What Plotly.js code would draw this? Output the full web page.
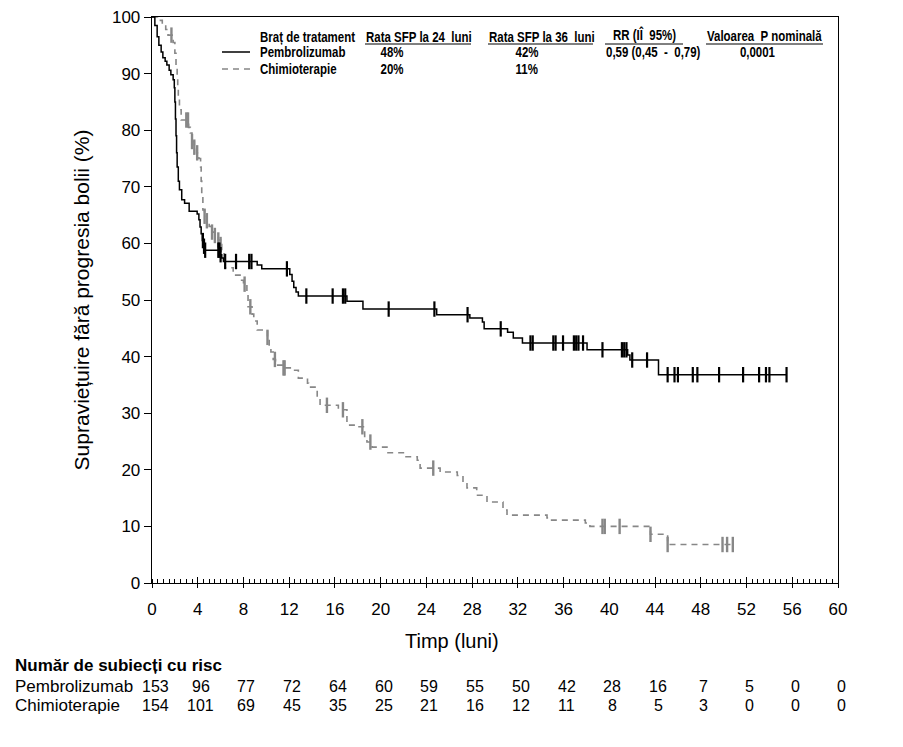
<!DOCTYPE html>
<html>
<head>
<meta charset="utf-8">
<script src="https://cdn.plot.ly/plotly-3.0.1.min.js"></script>
<style>
  html, body { margin: 0; padding: 0; background: #fff; }
  #chart { width: 903px; height: 747px; }
</style>
</head>
<body>
<div id="chart"></div>
<script>
// Kaplan-Meier progression-free survival, two treatment arms

// Pembrolizumab: step times (months) and survival (%) after each step
const pembroTime = [0, 0.25, 0.45, 0.6, 0.8, 0.95, 1.15, 1.3, 1.5, 1.65, 1.85, 1.95, 2.0, 2.05, 2.1, 2.15, 2.2, 2.3, 2.4, 2.6, 2.85, 3.25, 3.95, 4.1, 4.2, 4.3, 4.4, 4.5, 4.6, 5.95, 6.1, 6.25, 9.2, 9.6, 12.05, 12.25, 12.4, 12.6, 12.8, 17.05, 18.45, 24.9, 27.8, 28.9, 29.05, 31.1, 31.6, 32.4, 38.05, 41.6, 41.8, 44.3, 55.5];
const pembroSurv = [100, 98.5, 96.5, 95, 93.8, 92.8, 92.2, 91.5, 90.6, 89.8, 88.9, 87.5, 85, 82, 79, 76, 73.5, 71, 69.5, 67.7, 67.1, 65.7, 65.2, 64.2, 62.9, 61.7, 60.5, 59.5, 58.8, 58.0, 57.4, 56.8, 56.2, 55.5, 54.5, 53.3, 52.2, 51.4, 50.7, 49.8, 48.4, 47.4, 46.8, 46.1, 44.9, 44.3, 43.3, 42.4, 41.2, 40.3, 39.4, 36.8, 36.8];
// Pembrolizumab: censoring times (months)
const pembroCensor = [4.45, 4.55, 4.65, 5.8, 5.9, 6.0, 6.4, 7.35, 8.5, 8.7, 11.8, 13.5, 15.8, 16.7, 16.9, 20.7, 24.7, 27.6, 30.5, 33.1, 33.3, 35.1, 35.3, 35.95, 36.9, 37.1, 37.3, 37.7, 39.4, 41.1, 41.3, 41.5, 42.0, 43.3, 45.1, 45.7, 46.0, 47.3, 47.7, 49.6, 51.7, 53.1, 53.7, 54.0, 55.5];

// Chemotherapy: step times (months) and survival (%)
const chemoTime = [0, 0.5, 0.9, 1.2, 1.4, 1.85, 2.0, 2.1, 2.2, 2.25, 2.3, 2.4, 2.55, 3.2, 3.35, 3.5, 3.7, 3.9, 4.1, 4.25, 4.3, 4.35, 4.45, 4.6, 4.8, 5.0, 5.2, 5.5, 5.8, 6.0, 6.1, 6.3, 6.4, 7.1, 7.7, 8.0, 8.3, 8.4, 8.75, 8.9, 9.2, 10.1, 10.25, 10.4, 10.6, 10.8, 11.5, 12.2, 12.8, 13.6, 13.7, 14.45, 14.7, 16.3, 17.05, 18.0, 18.6, 18.8, 19.25, 20.55, 22.1, 23.2, 23.45, 25.2, 26.7, 27.2, 27.55, 28.4, 29.3, 30.7, 31.05, 34.55, 34.8, 37.9, 38.3, 43.6, 45.1, 50.8];
const chemoSurv = [100, 99.4, 98.7, 97.8, 96.8, 95.5, 93.6, 91.5, 89.4, 87.5, 85.5, 83.6, 81.8, 80.5, 79.5, 78.0, 77.0, 76.0, 75.0, 73.5, 71.0, 68.2, 65.9, 64.8, 64.0, 63.0, 62.0, 61.4, 60.6, 59.8, 58.5, 57.0, 55.7, 54.4, 53.5, 52.8, 51.0, 48.8, 47.5, 46.3, 44.7, 43.4, 41.5, 40.8, 39.5, 38.5, 38.0, 37.6, 36.2, 35.3, 34.6, 32.9, 31.4, 30.6, 27.9, 27.6, 25.6, 24.9, 24.0, 23.0, 22.3, 21.7, 20.3, 19.6, 19.0, 17.8, 16.8, 15.5, 14.3, 12.9, 12.0, 11.5, 11.1, 10.6, 10.0, 8.6, 6.8, 6.8];
// Chemotherapy: censoring times (months)
const chemoCensor = [1.7, 3.0, 3.15, 3.5, 3.7, 3.95, 4.6, 4.8, 5.25, 5.5, 5.8, 6.0, 8.1, 8.6, 10.1, 10.75, 11.5, 11.6, 15.3, 16.7, 18.4, 19.1, 24.6, 39.4, 39.6, 40.9, 43.6, 45.1, 49.9, 50.3, 50.8];

// Numbers at risk every 4 months
const riskTimes = [0, 4, 8, 12, 16, 20, 24, 28, 32, 36, 40, 44, 48, 52, 56, 60];
const riskPembro = [153, 96, 77, 72, 64, 60, 59, 55, 50, 42, 28, 16, 7, 5, 0, 0];
const riskChemo = [154, 101, 69, 45, 35, 25, 21, 16, 12, 11, 8, 5, 3, 0, 0, 0];

// Summary table beside the legend
const armNames = ['Pembrolizumab', 'Chimioterapie'];
const tableHeaders = ['Braț de tratament', 'Rata SFP la 24\u00a0 luni', 'Rata SFP la 36\u00a0 luni', 'RR (IÎ\u00a0 95%)', 'Valoarea\u00a0 P nominală'];
const rate24 = ['48%', '20%'];
const rate36 = ['42%', '11%'];
const hazardRatio = '0,59 (0,45\u00a0 -\u00a0 0,79)';
const pValue = '0,0001';

// survival value of a step curve at time t (right-continuous)
function survAt(times, surv, t) {
  let s = surv[0];
  for (let i = 0; i < times.length; i++) {
    if (times[i] <= t + 1e-9) s = surv[i]; else break;
  }
  return s;
}

const PEMBRO_COLOR = '#000000';
const CHEMO_COLOR = '#878787';

const traces = [
  {
    x: chemoTime, y: chemoSurv, type: 'scatter', mode: 'lines',
    line: { shape: 'hv', color: CHEMO_COLOR, width: 1.6, dash: '6px,5px' },
    hoverinfo: 'skip', showlegend: false
  },
  {
    x: chemoCensor, y: chemoCensor.map(t => survAt(chemoTime, chemoSurv, t)),
    type: 'scatter', mode: 'markers',
    marker: { symbol: 'line-ns', size: 11, line: { color: CHEMO_COLOR, width: 2.4 } },
    hoverinfo: 'skip', showlegend: false
  },
  {
    x: pembroTime, y: pembroSurv, type: 'scatter', mode: 'lines',
    line: { shape: 'hv', color: PEMBRO_COLOR, width: 1.5 },
    hoverinfo: 'skip', showlegend: false
  },
  {
    x: pembroCensor, y: pembroCensor.map(t => survAt(pembroTime, pembroSurv, t)),
    type: 'scatter', mode: 'markers',
    marker: { symbol: 'line-ns', size: 11, line: { color: PEMBRO_COLOR, width: 2.2 } },
    hoverinfo: 'skip', showlegend: false
  },
  // empty trace that carries the inner major-tick axis
  { x: [], y: [], xaxis: 'x2', type: 'scatter', mode: 'lines', hoverinfo: 'skip', showlegend: false }
];

// plot frame in pixels
const W = 903, H = 747;
const L = 152, R = 838, T = 17, B = 583;
const px = x => (x - L) / (R - L);
const py = y => (B - y) / (B - T);

const BASE_FONT = 'Liberation Sans, Arial, Helvetica, sans-serif';
const NARROW_SCALE = 0.82;   // horizontal squeeze for the condensed table lettering

const annotations = [];
const shapes = [];
const narrowIdx = [];        // annotation indices drawn condensed, with their anchor

function tableText(text, xPix, yPix, anchor) {
  narrowIdx.push({ i: annotations.length, anchor: anchor });
  annotations.push({
    text: '<b>' + text + '</b>', xref: 'paper', yref: 'paper',
    x: px(xPix), y: py(yPix), xanchor: anchor, yanchor: 'middle',
    showarrow: false, borderpad: 0,
    font: { family: BASE_FONT, size: 14, color: '#000' }
  });
}

// header row
tableText(tableHeaders[0], 259, 37, 'left');
tableText(tableHeaders[1], 365, 37, 'left');
tableText(tableHeaders[2], 488, 37, 'left');
tableText(tableHeaders[3], 644, 34.5, 'center');
tableText(tableHeaders[4], 706, 36, 'left');
[[365, 471], [488, 593], [605, 683], [706, 823]].forEach(([a, b]) => {
  shapes.push({ type: 'line', xref: 'paper', yref: 'paper', x0: px(a), x1: px(b), y0: py(44), y1: py(44),
    line: { color: '#000', width: 1 } });
});
// arm rows
const rowY = [52, 69];
armNames.forEach((name, i) => {
  tableText(name, 259, rowY[i], 'left');
  tableText(rate24[i], 392, rowY[i], 'center');
  tableText(rate36[i], 527, rowY[i], 'center');
});
tableText(hazardRatio, 605, rowY[0], 'left');
tableText(pValue, 757, rowY[0], 'center');
// legend line samples
shapes.push({ type: 'line', xref: 'paper', yref: 'paper', x0: px(222), x1: px(250), y0: py(52), y1: py(52),
  line: { color: PEMBRO_COLOR, width: 1.5 } });
shapes.push({ type: 'line', xref: 'paper', yref: 'paper', x0: px(222), x1: px(250), y0: py(69), y1: py(69),
  line: { color: CHEMO_COLOR, width: 1.5, dash: '6px,5px' } });

// x-axis title, centred on the page
annotations.push({
  text: 'Timp (luni)', xref: 'paper', yref: 'paper', x: px(452), y: py(641),
  xanchor: 'center', yanchor: 'middle', showarrow: false,
  font: { family: BASE_FONT, size: 20, color: '#000' }
});

// number at risk table
annotations.push({
  text: '<b>Număr de subiecți cu risc</b>', xref: 'paper', yref: 'paper',
  x: px(13), y: py(665), xanchor: 'left', yanchor: 'middle', showarrow: false,
  font: { family: BASE_FONT, size: 17, color: '#000' }
});
const riskRowsY = [686, 705];
[riskPembro, riskChemo].forEach((row, i) => {
  annotations.push({
    text: armNames[i], xref: 'paper', yref: 'paper', x: px(13), y: py(riskRowsY[i]),
    xanchor: 'left', yanchor: 'middle', showarrow: false,
    font: { family: BASE_FONT, size: 17, color: '#000' }
  });
  row.forEach((n, j) => {
    annotations.push({
      text: String(n), xref: 'x', yref: 'paper', x: riskTimes[j], y: py(riskRowsY[i]),
      xanchor: 'center', yanchor: 'middle', xshift: 3, showarrow: false,
      font: { family: BASE_FONT, size: 16, color: '#000' }
    });
  });
});

const layout = {
  width: W, height: H,
  paper_bgcolor: '#fff', plot_bgcolor: '#fff',
  margin: { l: L, r: W - R, t: T, b: H - B },
  font: { family: BASE_FONT, color: '#000' },
  xaxis: {
    range: [0, 60], tick0: 0, dtick: 4, ticks: 'outside', ticklen: 4, tickwidth: 1, tickcolor: '#000',
    minor: { dtick: 0.5, ticks: 'inside', ticklen: 4, tickwidth: 1, tickcolor: '#000' },
    showline: true, linecolor: '#000', linewidth: 1.3, mirror: true,
    showgrid: false, zeroline: false,
    tickfont: { size: 17, family: BASE_FONT, color: '#000' },
    ticklabelstandoff: 6,
    automargin: false
  },
  xaxis2: {
    overlaying: 'x', matches: 'x', side: 'bottom', anchor: 'y',
    range: [0, 60], tick0: 0, dtick: 4, ticks: 'inside', ticklen: 6, tickwidth: 1, tickcolor: '#000',
    showticklabels: false, showline: false, showgrid: false, zeroline: false, automargin: false
  },
  yaxis: {
    range: [0, 100], tick0: 0, dtick: 10, ticks: 'outside', ticklen: 7, tickwidth: 1, tickcolor: '#000',
    showline: true, linecolor: '#000', linewidth: 1.3, mirror: true,
    showgrid: false, zeroline: false,
    tickfont: { size: 17, family: BASE_FONT, color: '#000' },
    title: { text: 'Supraviețuire fără progresia bolii (%)', font: { size: 21, family: BASE_FONT, color: '#000' }, standoff: 16 },
    automargin: false
  },
  annotations: annotations,
  shapes: shapes
};

Plotly.newPlot('chart', traces, layout, { staticPlot: true, displayModeBar: false }).then(() => {
  // squeeze the summary-table lettering horizontally around each text's anchor
  narrowIdx.forEach(({ i, anchor }) => {
    const g = document.querySelector('.annotation[data-index="' + i + '"]');
    if (!g) return;
    const txt = g.querySelector('text');
    if (!txt) return;
    const bb = txt.getBBox();
    const cx = anchor === 'left' ? bb.x : bb.x + bb.width / 2;
    txt.setAttribute('transform',
      'translate(' + cx + ',0) scale(' + NARROW_SCALE + ',1) translate(' + (-cx) + ',0)');
  });
});
</script>
</body>
</html>
